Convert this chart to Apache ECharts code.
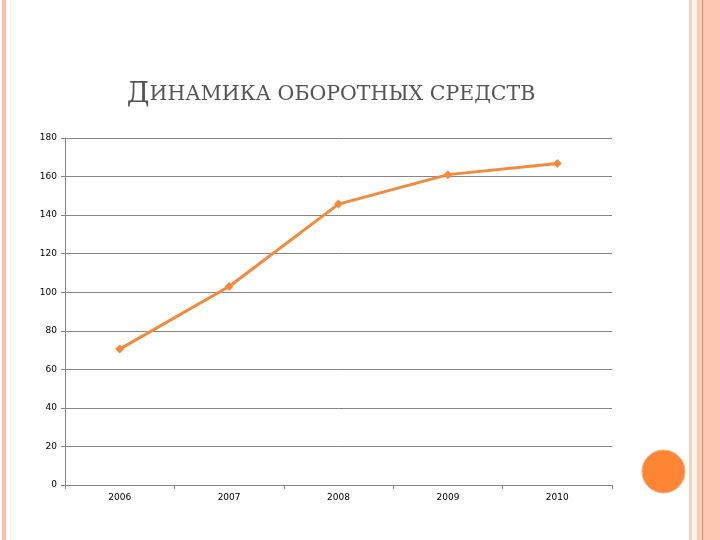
<!DOCTYPE html>
<html><head><meta charset="utf-8">
<script src="https://cdn.jsdelivr.net/npm/echarts@6/dist/echarts.min.js"></script>
<style>html,body{margin:0;padding:0;background:#fff}#c{width:720px;height:540px}</style>
</head><body><div id="c"></div>
<script>
var categories = ['2006','2007','2008','2009','2010'];
var values = [70.5, 103, 145.7, 161, 166.8];
var yTicks = [0,20,40,60,80,100,120,140,160,180];

var chart = echarts.init(document.getElementById('c'), null, {renderer:'canvas'});
var option = {
  animation:false,
  backgroundColor:'#ffffff',
  title:{
    text:'{a|Д}{b|ИНАМИКА ОБОРОТНЫХ СРЕДСТВ}',
    left:326, top:76, textAlign:'center',
    textStyle:{
      fontWeight:'normal',
      rich:{
        a:{fontFamily:'DejaVu Serif', fontSize:28, fontWeight:'normal', color:'#555555'},
        b:{fontFamily:'DejaVu Serif', fontSize:20.5, fontWeight:'normal', color:'#555555'}
      }
    }
  },
  graphic:[
    {type:'rect', shape:{x:2,y:0,width:4,height:540}, style:{fill:'#f8c0aa'}},
    {type:'rect', shape:{x:10,y:0,width:1,height:540}, style:{fill:'#f6f1d8'}},
    {type:'rect', shape:{x:689,y:0,width:3,height:540}, style:{fill:'#f2d3c2'}},
    {type:'rect', shape:{x:692,y:0,width:5,height:540}, style:{fill:'#fdf3e6'}},
    {type:'rect', shape:{x:697,y:0,width:3,height:540}, style:{fill:'#f7cbb7'}},
    {type:'rect', shape:{x:700,y:0,width:20,height:540}, style:{fill:'#fdc9b5'}},
    {type:'rect', shape:{x:702,y:0,width:1,height:540}, style:{fill:'#f08a60'}},
    {type:'circle', shape:{cx:663.5,cy:471.5,r:21.5}, style:{fill:'#fd8533', stroke:'#f6b27c', lineWidth:1}}
  ],
  grid:{left:65, right:108, top:138, bottom:55, containLabel:false},
  xAxis:{
    type:'category', data:categories, boundaryGap:true,
    axisLine:{lineStyle:{color:'#868686', width:1}},
    axisTick:{show:true, length:4, lineStyle:{color:'#868686'}},
    axisLabel:{color:'#000', fontSize:9, fontFamily:'DejaVu Sans', margin:8}
  },
  yAxis:{
    type:'value', min:0, max:180, interval:20,
    axisLine:{show:true, lineStyle:{color:'#868686', width:1}},
    axisTick:{show:true, length:4, lineStyle:{color:'#868686'}},
    axisLabel:{color:'#000', fontSize:9, fontFamily:'DejaVu Sans', margin:8},
    splitLine:{show:true, lineStyle:{color:'#868686', width:1}}
  },
  series:[{
    type:'line', data:values,
    symbol:'diamond', symbolSize:9,
    lineStyle:{color:'#f5893a', width:3},
    itemStyle:{color:'#f5893a'}
  }]
};
chart.setOption(option);
</script></body></html>
